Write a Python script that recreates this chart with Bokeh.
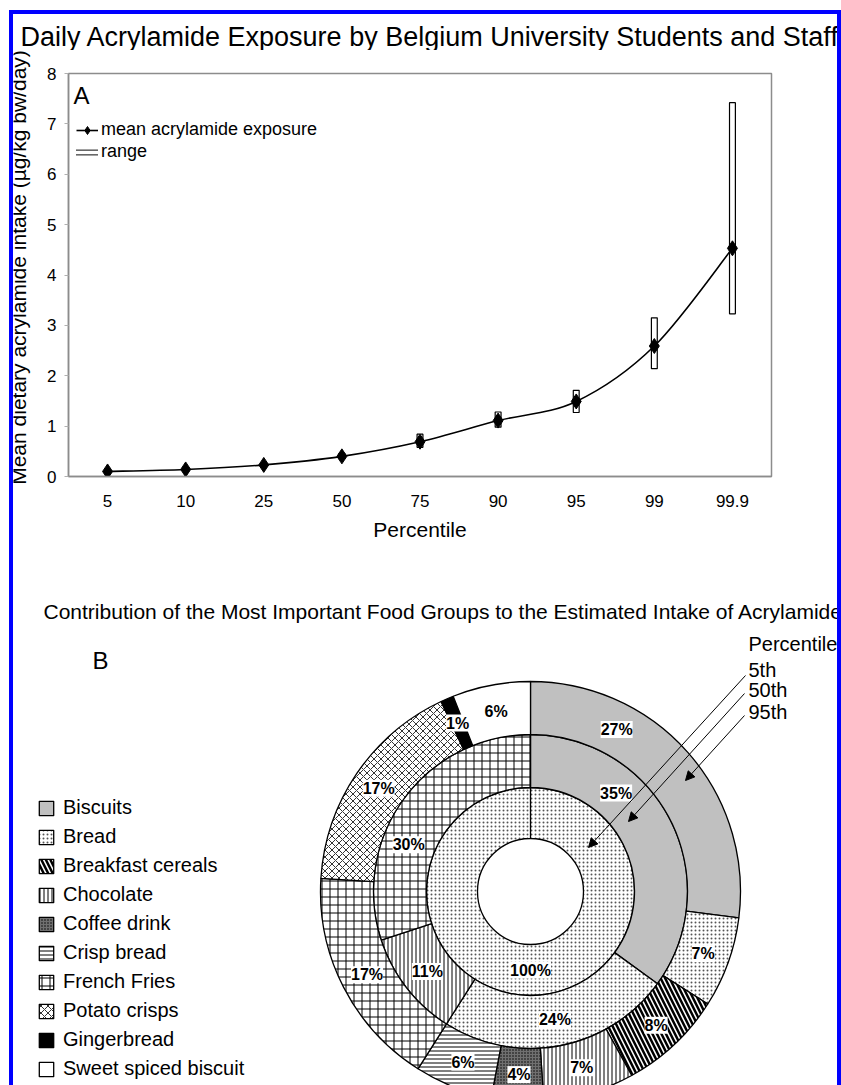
import numpy as np
from math import pi, radians, sin, cos
from bokeh.plotting import figure
from bokeh.models import (Range1d, FactorRange, ColumnDataSource, Label, LabelSet, Legend,
                          LegendItem, FixedTicker, Arrow, NormalHead, Spacer)
from bokeh.layouts import row, column
from bokeh.embed import file_html
from bokeh.resources import INLINE
from bokeh.core.properties import value

# ---------------- data: panel A ----------------
percentiles = ["5", "10", "25", "50", "75", "90", "95", "99", "99.9"]
mean_exposure = [0.10, 0.14, 0.23, 0.40, 0.69, 1.11, 1.49, 2.59, 4.53]
range_low = [0.08, 0.12, 0.20, 0.35, 0.58, 0.98, 1.27, 2.14, 3.23]
range_high = [0.12, 0.17, 0.27, 0.46, 0.84, 1.28, 1.71, 3.15, 7.42]
y_ticks = [0, 1, 2, 3, 4, 5, 6, 7, 8]

# ---------------- data: panel B ----------------
food_groups = ["Biscuits", "Bread", "Breakfast cereals", "Chocolate", "Coffee drink",
               "Crisp bread", "French Fries", "Potato crisps", "Gingerbread",
               "Sweet spiced biscuit"]
share_5th = [0, 100, 0, 0, 0, 0, 0, 0, 0, 0]
share_50th = [35, 24, 0, 11, 0, 0, 30, 0, 0, 0]
share_95th = [27, 7, 8, 7, 4, 6, 17, 17, 1, 6]
ring_names = ["5th", "50th", "95th"]

# ---------------- styles ----------------
FONT = "Liberation Sans"
food_fill = ["#c0c0c0", "white", "white", "white", "#707070", "white", "white", "white", "black", "white"]
food_hatch = ["blank", "dot", "left_diagonal_line", "vertical_line", "dot", "horizontal_line",
              "cross", "diagonal_cross", "blank", "blank"]
food_hscale = [8, 4, 9, 4, 3, 4, 8, 7, 8, 8]
food_hweight = [1, 1, 2.5, 1, 1.2, 1, 1, 1, 1, 1]
food_hcolor = ["black", "#555555", "black", "black", "black", "black", "black", "#333333", "black", "black"]


def blank_fig(width, height, x0, x1, y0, y1):
    f = figure(width=width, height=height, x_range=Range1d(x0, x1), y_range=Range1d(-y1, -y0),
               output_backend="svg", toolbar_location=None, min_border=0, frame_align=False)
    f.axis.visible = False
    f.xgrid.visible = False
    f.ygrid.visible = False
    f.outline_line_color = None
    return f


# ================= title strip =================
pT = blank_fig(824, 36, 13, 837, 14, 50)
pT.add_layout(Label(x=20, y=-36.5, text="Daily Acrylamide Exposure by Belgium University Students and Staff",
                    text_font=FONT, text_font_size="27px", text_baseline="alphabetic",
                    text_color="black"))

# ================= y label strip =================
pL = blank_fig(27, 530, 13, 40, 50, 580)
pL.add_layout(Label(x=18, y=-267, angle=pi / 2,
                    text="Mean dietary acrylamide intake (\u00b5g/kg bw/day)",
                    text_font=FONT, text_font_size="21px", text_align="center",
                    text_baseline="middle", text_color="black"))

# ================= panel A =================
pA = figure(width=797, height=530, x_range=FactorRange(*percentiles), y_range=Range1d(0, 8),
            output_backend="svg", toolbar_location=None, frame_align=False,
            min_border_left=28, min_border_right=66, min_border_top=23, min_border_bottom=104)
pA.xgrid.visible = False
pA.ygrid.visible = False
pA.outline_line_color = "#8c8c8c"
pA.outline_line_width = 1.5

pA.yaxis.ticker = FixedTicker(ticks=y_ticks)
for ax in (pA.xaxis[0], pA.yaxis[0]):
    ax.axis_line_color = "#8c8c8c"
    ax.axis_line_width = 1.5
    ax.major_tick_line_color = "#b0b0b0"
    ax.major_tick_out = 4
    ax.major_tick_in = 0
    ax.minor_tick_line_color = None
    ax.major_label_text_font = FONT
    ax.major_label_text_font_size = "17px"
    ax.major_label_text_color = "black"
pA.yaxis.major_label_standoff = 8
pA.xaxis.major_tick_line_color = None
pA.xaxis.major_label_standoff = 14
pA.xaxis.axis_label = "Percentile"
pA.xaxis.axis_label_text_font = FONT
pA.xaxis.axis_label_text_font_size = "21px"
pA.xaxis.axis_label_text_font_style = "normal"
pA.xaxis.axis_label_text_color = "black"
pA.xaxis.axis_label_standoff = 8

# range bars
pA.vbar(x=percentiles, bottom=range_low, top=range_high, width=0.075,
        fill_color="white", line_color="black", line_width=1.2)

# smoothed line (Catmull-Rom style bezier through the means)
xs = np.arange(len(percentiles)) + 0.5
ys = np.array(mean_exposure)
n = len(xs)
i0 = np.arange(n - 1)
i1 = i0 + 1
prev_i = np.maximum(i0 - 1, 0)
next_i = np.minimum(i0 + 2, n - 1)
bez = dict(
    x0=xs[i0], y0=ys[i0], x1=xs[i1], y1=ys[i1],
    cx0=xs[i0] + (xs[i1] - xs[prev_i]) / 6, cy0=ys[i0] + (ys[i1] - ys[prev_i]) / 6,
    cx1=xs[i1] - (xs[next_i] - xs[i0]) / 6, cy1=ys[i1] - (ys[next_i] - ys[i0]) / 6,
)
r_line = pA.bezier(source=ColumnDataSource(bez), x0="x0", y0="y0", x1="x1", y1="y1",
                   cx0="cx0", cy0="cy0", cx1="cx1", cy1="cy1",
                   line_color="black", line_width=1.6)
r_pts = pA.scatter(x=percentiles, y=mean_exposure, marker="diamond", size=15,
                   fill_color="black", line_color="black")

# legend-only renderers (draw nothing on the plot) for the flat "range" box
r_rng_o = pA.line(x=[percentiles[0]], y=[float("nan")], line_color="#444444", line_width=6,
                  line_cap="square")
r_rng_i = pA.line(x=[percentiles[0]], y=[float("nan")], line_color="white", line_width=3.4,
                  line_cap="square")

legA = Legend(items=[LegendItem(label="mean acrylamide exposure", renderers=[r_line, r_pts]),
                     LegendItem(label="range", renderers=[r_rng_o, r_rng_i])],
              location=(8, 314), border_line_color=None, background_fill_alpha=0,
              padding=0, margin=0, spacing=1, glyph_width=22, glyph_height=20,
              label_standoff=3, label_text_font=FONT, label_text_font_size="18px",
              label_text_color="black")
pA.add_layout(legA)

pA.add_layout(Label(x=5, y=381, x_units="screen", y_units="screen", text="A",
                    text_font=FONT, text_font_size="24px", text_baseline="middle",
                    text_color="black"))

# ================= panel B =================
pB = blank_fig(824, 505, 13, 837, 580, 1085)

CX, CY = 530, -891
ring_radii = [(53, 104), (104, 157), (157, 210)]
label_nudge = {("95th", "Biscuits"): 28, ("50th", "Biscuits"): 41, ("50th", "French Fries"): 291}

ring_renderers = []
lab = dict(x=[], y=[], text=[])
for name, shares, (r_in, r_out) in zip(ring_names, [share_5th, share_50th, share_95th], ring_radii):
    idx = [i for i, v in enumerate(shares) if v > 0]
    vals = np.array([shares[i] for i in idx], dtype=float)
    cum = np.concatenate([[0], np.cumsum(vals)]) / vals.sum()
    src = ColumnDataSource(dict(
        start=pi / 2 - 2 * pi * cum[:-1], end=pi / 2 - 2 * pi * cum[1:],
        fill=[food_fill[i] for i in idx], hatch=[food_hatch[i] for i in idx],
        hscale=[food_hscale[i] for i in idx], hweight=[food_hweight[i] for i in idx],
        hcolor=[food_hcolor[i] for i in idx]))
    r = pB.annular_wedge(x=CX, y=CY, inner_radius=r_in, outer_radius=r_out,
                         start_angle="start", end_angle="end", direction="clock", source=src,
                         fill_color="fill", hatch_pattern="hatch", hatch_scale="hscale",
                         hatch_weight="hweight", hatch_color="hcolor",
                         line_color="black", line_width=1.3)
    ring_renderers.append(r)
    rm = (r_in + r_out) / 2
    for k, i in enumerate(idx):
        ang = 360 * (cum[k] + cum[k + 1]) / 2
        ang = label_nudge.get((name, food_groups[i]), ang)
        lab["x"].append(CX + rm * sin(radians(ang)))
        lab["y"].append(CY + rm * cos(radians(ang)))
        lab["text"].append(f"{shares[i]}%")

pB.add_layout(LabelSet(x="x", y="y", text="text", source=ColumnDataSource(lab),
                       text_font=value(FONT), text_font_style="bold", text_font_size="16px",
                       text_align="center", text_baseline="middle", text_color="black",
                       background_fill_color="white"))

outer = ring_renderers[-1]
legB = Legend(items=[LegendItem(label=f, renderers=[outer], index=i) for i, f in enumerate(food_groups)],
              location=(24, 5), border_line_color=None, background_fill_alpha=0,
              padding=0, margin=0, spacing=6, glyph_width=18, glyph_height=18,
              label_standoff=8, label_text_font=FONT, label_text_font_size="20px",
              label_text_color="black")
pB.add_layout(legB)

pB.add_layout(Label(x=43, y=-611, text="Contribution of the Most Important Food Groups to the Estimated Intake of Acrylamide",
                    text_font=FONT, text_font_size="21px", text_baseline="alphabetic",
                    text_color="black"))
pB.add_layout(Label(x=92, y=-660, text="B", text_font=FONT, text_font_size="24px",
                    text_baseline="middle", text_color="black"))
pB.add_layout(Label(x=748, y=-643.5, text="Percentile", text_font=FONT, text_font_size="20px",
                    text_baseline="middle", text_color="black"))
arrow_start = [(745, -675), (744, -693), (744, -715)]
arrow_end = [(588, -847), (628, -821), (685, -780)]
for name, ty, (xs0, ys0), (xe, ye) in zip(ring_names, [-669, -689, -711], arrow_start, arrow_end):
    pB.add_layout(Label(x=748, y=ty, text=name, text_font=FONT, text_font_size="20px",
                        text_baseline="middle", text_color="black"))
    pB.add_layout(Arrow(end=NormalHead(size=9, fill_color="black", line_color="black"),
                        x_start=xs0, y_start=ys0, x_end=xe, y_end=ye,
                        line_color="black", line_width=1))

# ================= page frame =================
blue = {"background-color": "blue"}
top_bar = Spacer(width=832, height=4, styles=blue)
left_bar = Spacer(width=4, height=1071, styles=blue)
right_bar = Spacer(width=4, height=1071, styles=blue)
content = column(pT, row(pL, pA), pB)
layout = row(Spacer(width=9, height=1085),
             column(Spacer(width=832, height=10), top_bar,
                    row(left_bar, content, right_bar)))

open("out.html", "w").write(file_html(layout, INLINE))
